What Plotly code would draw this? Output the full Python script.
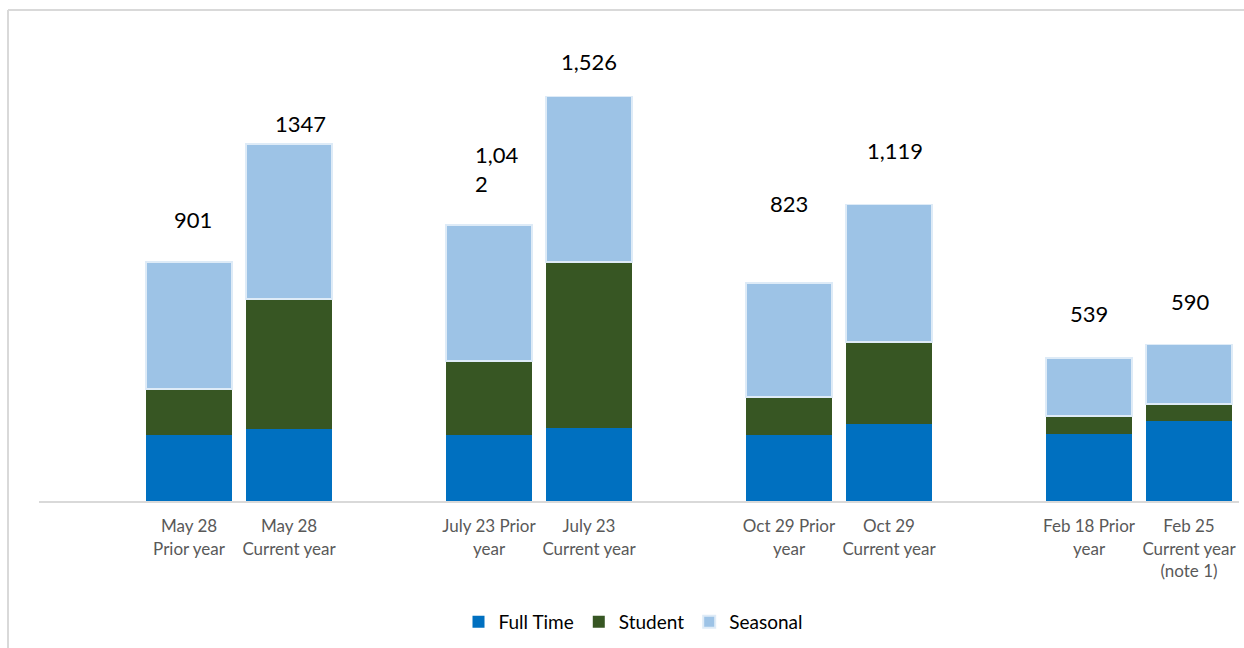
import plotly.graph_objects as go

# ---- data ----
categories = ["May 28<br>Prior year", "May 28<br>Current year",
              "July 23 Prior<br>year", "July 23<br>Current year",
              "Oct 29 Prior<br>year", "Oct 29<br>Current year",
              "Feb 18 Prior<br>year", "Feb 25<br>Current year<br>(note 1)"]
full_time = [249, 272, 249, 275, 249, 291, 253, 302]
student = [174, 491, 279, 626, 143, 309, 68, 64]
seasonal = [478, 584, 514, 625, 431, 519, 218, 224]
totals = [901, 1347, 1042, 1526, 823, 1119, 539, 590]
total_labels = ["901", "1347", "1,04<br>2", "1,526", "823", "1,119", "539", "590"]

# ---- styling / layout helpers ----
spacers = ["\u200b", "\u200b\u200b", "\u200b\u200b\u200b", "\u200b\u200b\u200b\u200b"]
cat_order = [spacers[0], categories[0], categories[1], spacers[1],
             categories[2], categories[3], spacers[2],
             categories[4], categories[5], spacers[3],
             categories[6], categories[7]]
label_xshift = [4, 11, 8, 0, 0, 6, 0, 1]
label_yshift = [43, 21, 56, 35, 79, 54, 45, 43]
label_align = ["center", "center", "left", "center", "center", "center", "center", "center"]

W, H = 1244, 648
ml, mr, mt, mb = 39, 5, 24, 147
FONT = "Lato, Calibri, Arial, sans-serif"

fig = go.Figure()
fig.add_bar(x=categories, y=full_time, name="Full Time",
            marker=dict(color="#0070C0", line=dict(width=0)))
fig.add_bar(x=categories, y=student, name="Student",
            marker=dict(color="#375623", line=dict(width=0)))
fig.add_bar(x=categories, y=seasonal, name="Seasonal",
            marker=dict(color="#9DC3E6", line=dict(color="#DEEBF7", width=1.5)))

for c, t, lab, xs, ys, al in zip(categories, totals, total_labels,
                                  label_xshift, label_yshift, label_align):
    fig.add_annotation(x=c, y=t, text=lab, showarrow=False, xref="x", yref="y",
                       xanchor="center", yanchor="middle", align=al,
                       xshift=xs, yshift=ys,
                       font=dict(family=FONT, size=22, color="#000000"))

plot_w = W - ml - mr
plot_h = H - mt - mb
# outer light-grey chart border (left & top visible)
bx = (8 - ml) / plot_w
by = (H - mb - 10) / plot_h
fig.add_shape(type="line", xref="paper", yref="paper", x0=bx, x1=bx, y0=-1, y1=by,
              line=dict(color="#D9D9D9", width=2))
fig.add_shape(type="line", xref="paper", yref="paper", x0=bx, x1=1.2, y0=by, y1=by,
              line=dict(color="#D9D9D9", width=2))

fig.update_layout(
    width=W, height=H,
    margin=dict(l=ml, r=mr, t=mt, b=mb),
    barmode="stack", bargap=0.14,
    plot_bgcolor="white", paper_bgcolor="white",
    font=dict(family=FONT, color="#595959"),
    showlegend=True,
    legend=dict(orientation="h", x=0.495, xanchor="center",
                y=(H - mb - 622) / plot_h, yanchor="middle",
                font=dict(family=FONT, size=19, color="#000000"),
                itemsizing="constant", traceorder="normal"),
    xaxis=dict(type="category", categoryorder="array", categoryarray=cat_order,
               tickvals=categories, ticktext=categories,
               range=[-0.5, 11.5], showline=True, linecolor="#D9D9D9", linewidth=2,
               ticks="", ticklabelstandoff=9,
               tickfont=dict(family=FONT, size=17, color="#595959"),
               showgrid=False, fixedrange=True),
    yaxis=dict(range=[0, 1800], visible=False, showgrid=False, zeroline=False,
               fixedrange=True),
)

fig.write_html("out.html")
